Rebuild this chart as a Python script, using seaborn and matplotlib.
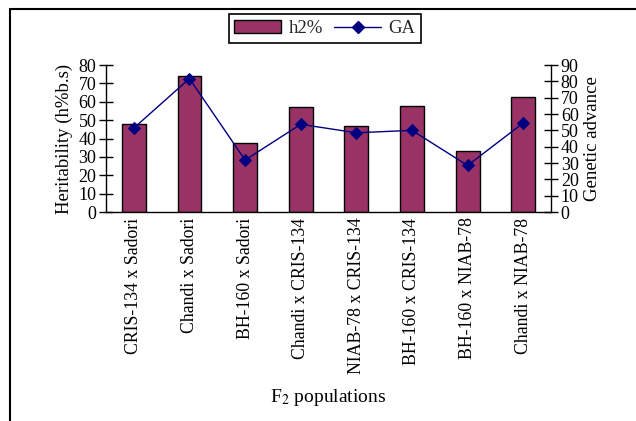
import matplotlib
matplotlib.use("Agg")
import matplotlib.pyplot as plt
import seaborn as sns
import pandas as pd
from matplotlib.lines import Line2D
from matplotlib.patches import Patch
from matplotlib.ticker import MultipleLocator, FixedLocator, NullFormatter

populations = ["CRIS-134 x Sadori", "Chandi x Sadori", "BH-160 x Sadori", "Chandi x CRIS-134",
               "NIAB-78 x CRIS-134", "BH-160 x CRIS-134", "BH-160 x NIAB-78", "Chandi x NIAB-78"]
h2 = [47.8, 73.9, 37.8, 56.9, 47.0, 57.8, 33.0, 62.4]
ga = [51.4, 81.7, 31.8, 53.7, 48.5, 50.0, 28.5, 54.5]

sns.set_theme(style="white")
plt.rcParams['font.family'] = ['Liberation Serif', 'DejaVu Serif']
plt.rcParams['mathtext.fontset'] = 'stix'

df = pd.DataFrame({"pop": populations, "h2": h2, "ga": ga})

fig = plt.figure(figsize=(6.36, 4.21), dpi=100)
ax = fig.add_axes([0.1667, 0.4964, 0.6997, 0.3492])

sns.barplot(data=df, x="pop", y="h2", ax=ax, color="#993366", saturation=1,
            edgecolor="black", linewidth=1, width=0.43)
ax.set_ylim(0, 80)
ax.set_xlim(-0.5, len(populations) - 0.5)
ax.yaxis.set_major_locator(MultipleLocator(10))
ax.set_ylabel("Heritability (h%b.s)", fontsize=13.5, color="black", labelpad=4)
ax.set_xlabel("F$_2$ populations", fontsize=14, color="black", va="center")
ax.xaxis.set_label_coords(0.5, -1.26)

# category labels sit between tick marks at boundaries
ax.set_xticks(range(len(populations)))
ax.set_xticklabels(populations, rotation=90, fontsize=12.8, color="black")
ax.tick_params(axis="x", which="major", length=0, pad=4)
ax.xaxis.set_minor_locator(FixedLocator([i - 0.5 for i in range(len(populations) + 1)]))
ax.xaxis.set_minor_formatter(NullFormatter())
ax.tick_params(axis="x", which="minor", length=10, direction="inout", width=1, color="black")
ax.tick_params(axis="y", length=10, direction="inout", width=1, color="black",
               labelsize=13, labelcolor="black", pad=2)

for s in ["top", "right"]:
    ax.spines[s].set_visible(False)
for s in ["left", "bottom"]:
    ax.spines[s].set_color("black")
    ax.spines[s].set_linewidth(1)

ax2 = ax.twinx()
sns.lineplot(x=list(range(len(populations))), y=ga, ax=ax2, color="#000080",
             marker="D", markersize=6.5, linewidth=1, markeredgecolor="#000080")
ax2.set_ylim(0, 90)
ax2.yaxis.set_major_locator(MultipleLocator(10))
ax2.set_ylabel("Genetic advance", fontsize=13.5, color="black", labelpad=4)
ax2.tick_params(axis="y", length=10, direction="inout", width=1, color="black",
                labelsize=13, labelcolor="black", pad=2)
for s in ["top", "left", "bottom"]:
    ax2.spines[s].set_visible(False)
ax2.spines["right"].set_color("black")
ax2.spines["right"].set_linewidth(1)

handles = [Patch(facecolor="#993366", edgecolor="black", linewidth=1),
           Line2D([], [], color="#000080", marker="D", markersize=6.5, linewidth=1)]
leg = fig.legend(handles, ["h2%", "GA"], loc="center", bbox_to_anchor=(0.511, 0.932),
                 ncol=2, fontsize=13.5, frameon=True, fancybox=False, framealpha=1,
                 edgecolor="black", handlelength=2.5, handleheight=0.7, columnspacing=0.6,
                 handletextpad=0.4, borderpad=0.3, borderaxespad=0)
leg.get_frame().set_linewidth(1.2)

# outer chart border (left and top only visible)
fig.add_artist(Line2D([0.0165, 0.0165], [0.0, 0.979], color="black", linewidth=1.5))
fig.add_artist(Line2D([0.0165, 1.0], [0.979, 0.979], color="black", linewidth=1.5))

fig.savefig("out.png", dpi=100)
